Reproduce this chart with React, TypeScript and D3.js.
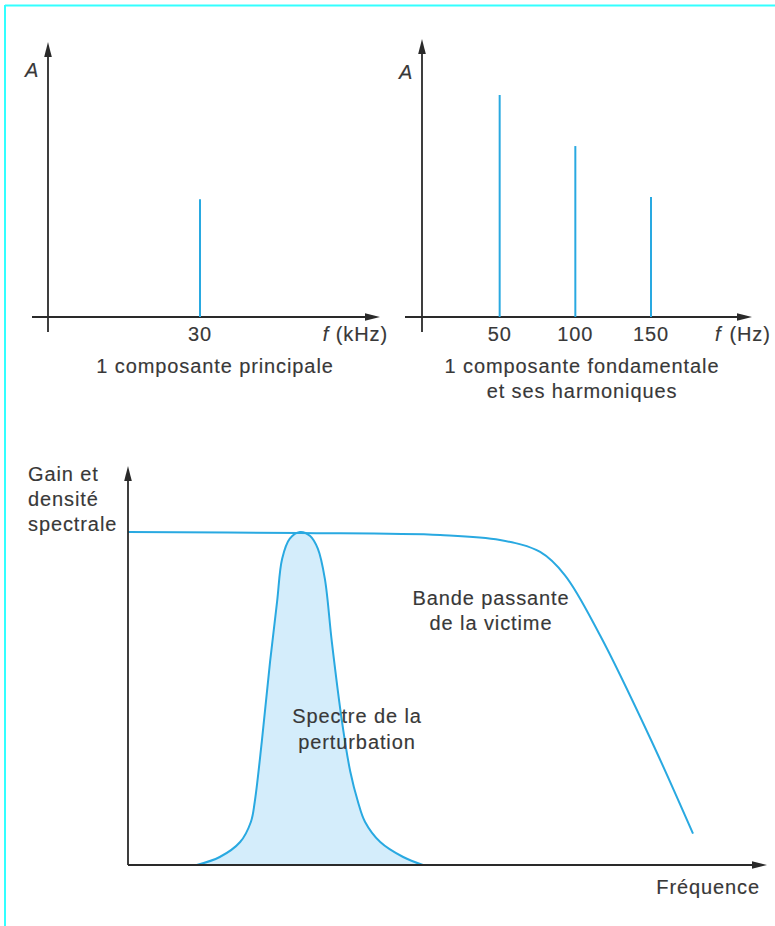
import * as d3 from "d3";

// top left panel: one main component
const MAIN_FREQ = [30];
const MAIN_AMP = [0.53];
const MAIN_TICKS = ["30"];

// top right panel: fundamental + harmonics
const HARM_FREQ = [50, 100, 150];
const HARM_AMP = [1.0, 0.77, 0.54];
const HARM_TICKS = ["50", "100", "150"];

// bottom panel: victim bandwidth (gain) and disturbance spectrum
const GAIN_X = [0, 27, 49, 58.4, 64.7, 68.6, 74.1, 82, 88.7];
const GAIN_Y = [1.0, 0.997, 0.991, 0.976, 0.94, 0.87, 0.69, 0.38, 0.094];

const SPEC_X = [10.8, 14.4, 17.6, 19.3, 19.9, 21.0, 22.3, 23.4, 24.2, 25.4, 27.0, 28.6, 29.8, 30.9, 32.0, 33.6, 34.9, 36.1, 37.2, 39.6, 43.2, 46.3];
const SPEC_Y = [0, 0.024, 0.069, 0.13, 0.19, 0.37, 0.61, 0.79, 0.92, 0.98, 1.0, 0.988, 0.95, 0.86, 0.67, 0.43, 0.28, 0.19, 0.13, 0.069, 0.024, 0];

const W = 775;
const H = 926;
const BLUE = "#29a9e1";
const AXIS = "#2a2a2a";
const TEXT = "#383838";
const FONT = "'Liberation Sans', Arial, sans-serif";

function arrowUp(x: number, y: number) {
  return `M${x},${y} L${x - 3.8},${y + 15} L${x + 3.8},${y + 15} Z`;
}
function arrowRight(x: number, y: number) {
  return `M${x},${y} L${x - 15},${y - 3.8} L${x - 15},${y + 3.8} Z`;
}

const txt = {
  fontFamily: FONT,
  fontSize: 20,
  fill: TEXT,
  stroke: TEXT,
  strokeWidth: 0.15,
  letterSpacing: 0.9,
} as const;

export default function App() {
  // top panels share amplitude scale
  const yTop = d3.scaleLinear().domain([0, 1]).range([317, 95]);
  const xMain = d3.scaleLinear().domain([0, 30]).range([48, 200]);
  const xHarm = d3.scaleLinear().domain([0, 150]).range([424, 651]);

  const xB = d3.scaleLinear().domain([0, 100]).range([128, 765]);
  const yB = d3.scaleLinear().domain([0, 1]).range([865, 532]);

  const gainPts = GAIN_X.map((x, i) => [x, GAIN_Y[i]] as [number, number]);
  const specPts = SPEC_X.map((x, i) => [x, SPEC_Y[i]] as [number, number]);

  const gainLine = d3
    .line<[number, number]>()
    .x((d) => xB(d[0]))
    .y((d) => yB(d[1]))
    .curve(d3.curveCatmullRom.alpha(0.5));
  const specArea = d3
    .area<[number, number]>()
    .x((d) => xB(d[0]))
    .y0(yB(0))
    .y1((d) => yB(d[1]))
    .curve(d3.curveCatmullRom.alpha(0.5));
  const specLine = d3
    .line<[number, number]>()
    .x((d) => xB(d[0]))
    .y((d) => yB(d[1]))
    .curve(d3.curveCatmullRom.alpha(0.5));

  return (
    <svg
      width={W}
      height={H}
      viewBox={`0 0 ${W} ${H}`}
      style={{ position: "absolute", left: 0, top: 0, background: "#fff" }}
    >
      {/* cyan frame */}
      <line x1={5} y1={5.5} x2={W} y2={5.5} stroke="#3ff" strokeWidth={2} />
      <line x1={5} y1={5} x2={5} y2={H} stroke="#3ff" strokeWidth={2} />

      {/* ---- top left ---- */}
      <g>
        <line x1={xMain(0)} y1={332} x2={xMain(0)} y2={50} stroke={AXIS} strokeWidth={1.8} />
        <path d={arrowUp(xMain(0), 42)} fill={AXIS} />
        <line x1={32} y1={yTop(0)} x2={372} y2={yTop(0)} stroke={AXIS} strokeWidth={1.8} />
        <path d={arrowRight(380, yTop(0))} fill={AXIS} />
        {MAIN_FREQ.map((f, i) => (
          <line key={f} x1={xMain(f)} x2={xMain(f)} y1={yTop(0)} y2={yTop(MAIN_AMP[i])} stroke={BLUE} strokeWidth={2} />
        ))}
        {MAIN_FREQ.map((f, i) => (
          <text key={f} x={xMain(f)} y={341} textAnchor="middle" {...txt}>
            {MAIN_TICKS[i]}
          </text>
        ))}
        <text x={32} y={77} textAnchor="middle" {...txt} fontStyle="italic">A</text>
        <text x={388} y={341} textAnchor="end" {...txt}>
          <tspan fontStyle="italic">f</tspan> (kHz)
        </text>
        <text x={215} y={373} textAnchor="middle" {...txt}>1 composante principale</text>
      </g>

      {/* ---- top right ---- */}
      <g>
        <line x1={422} y1={332} x2={422} y2={48} stroke={AXIS} strokeWidth={1.8} />
        <path d={arrowUp(422, 39)} fill={AXIS} />
        <line x1={405} y1={yTop(0)} x2={744} y2={yTop(0)} stroke={AXIS} strokeWidth={1.8} />
        <path d={arrowRight(752, yTop(0))} fill={AXIS} />
        {HARM_FREQ.map((f, i) => (
          <line key={f} x1={xHarm(f)} x2={xHarm(f)} y1={yTop(0)} y2={yTop(HARM_AMP[i])} stroke={BLUE} strokeWidth={2} />
        ))}
        {HARM_FREQ.map((f, i) => (
          <text key={f} x={xHarm(f)} y={341} textAnchor="middle" {...txt}>
            {HARM_TICKS[i]}
          </text>
        ))}
        <text x={406} y={79} textAnchor="middle" {...txt} fontStyle="italic">A</text>
        <text x={715} y={341} {...txt}>
          <tspan fontStyle="italic">f</tspan>
          <tspan dx={8}>(Hz)</tspan>
        </text>
        <text x={582} y={373} textAnchor="middle" {...txt}>1 composante fondamentale</text>
        <text x={582} y={398} textAnchor="middle" {...txt}>et ses harmoniques</text>
      </g>

      {/* ---- bottom ---- */}
      <g>
        <path d={specArea(specPts) ?? ""} fill="#d4edfb" />
        <path d={specLine(specPts) ?? ""} fill="none" stroke={BLUE} strokeWidth={2} />
        <path d={gainLine(gainPts) ?? ""} fill="none" stroke={BLUE} strokeWidth={2} />
        <line x1={xB(0)} y1={yB(0)} x2={xB(0)} y2={475} stroke={AXIS} strokeWidth={1.8} />
        <path d={arrowUp(xB(0), 466)} fill={AXIS} />
        <line x1={xB(0)} y1={yB(0)} x2={759} y2={yB(0)} stroke={AXIS} strokeWidth={1.8} />
        <path d={arrowRight(767, yB(0))} fill={AXIS} />

        <text x={28} y={481} {...txt}>Gain et</text>
        <text x={28} y={506} {...txt}>densité</text>
        <text x={28} y={531} {...txt}>spectrale</text>

        <text x={491} y={605} textAnchor="middle" {...txt}>Bande passante</text>
        <text x={491} y={630} textAnchor="middle" {...txt}>de la victime</text>

        <text x={357} y={723} textAnchor="middle" {...txt}>Spectre de la</text>
        <text x={357} y={749} textAnchor="middle" {...txt}>perturbation</text>

        <text x={760} y={894} textAnchor="end" {...txt}>Fréquence</text>
      </g>
    </svg>
  );
}
